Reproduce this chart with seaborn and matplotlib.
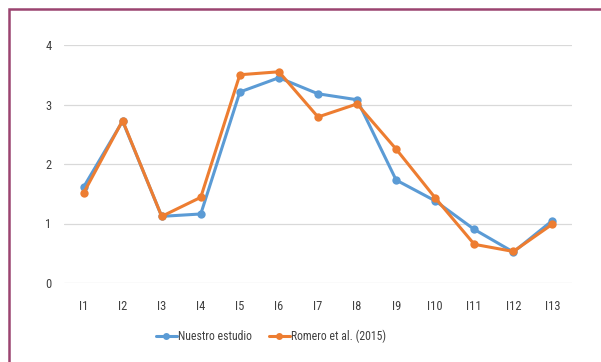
import matplotlib
matplotlib.use("Agg")
import matplotlib.pyplot as plt
import seaborn as sns
import pandas as pd
from matplotlib.patches import Rectangle

items = ["I1", "I2", "I3", "I4", "I5", "I6", "I7", "I8", "I9", "I10", "I11", "I12", "I13"]
nuestro = [1.61, 2.72, 1.12, 1.16, 3.21, 3.45, 3.18, 3.08, 1.73, 1.38, 0.90, 0.52, 1.05]
romero = [1.51, 2.73, 1.12, 1.44, 3.50, 3.55, 2.79, 3.01, 2.25, 1.43, 0.65, 0.53, 0.99]
series_names = ["Nuestro estudio", "Romero et al. (2015)"]
colors = ["#5b9bd5", "#ed7d31"]

df = pd.DataFrame({
    "item": items * 2,
    "x": list(range(len(items))) * 2,
    "valor": nuestro + romero,
    "serie": [series_names[0]] * len(items) + [series_names[1]] * len(items),
})

sns.set_theme(style="white")
plt.rcParams["font.family"] = ["Roboto Condensed", "Liberation Sans", "DejaVu Sans"]

W, H = 601, 362
fig = plt.figure(figsize=(W / 100, H / 100), dpi=100)
ax = fig.add_axes([64 / W, 1 - 283 / H, (572 - 64) / W, (283 - 45) / H])

sns.lineplot(data=df, x="x", y="valor", hue="serie", palette=colors,
             marker="o", markersize=6, markeredgewidth=0, linewidth=2.2,
             ax=ax, legend=False, clip_on=False, zorder=3)

ax.set_xlim(-0.5, len(items) - 0.5)
ax.set_ylim(0, 4)
ax.set_yticks([0, 1, 2, 3, 4])
ax.set_yticklabels(["0", "1", "2", "3", "4"])
ax.set_xticks(range(len(items)))
ax.set_xticklabels(items)
ax.set_xlabel("")
ax.set_ylabel("")
ax.grid(axis="y", color="#d9d9d9", linewidth=0.9)
ax.grid(axis="x", visible=False)
for s in ax.spines.values():
    s.set_visible(False)
ax.tick_params(axis="both", length=0, labelsize=9, colors="#404040")
ax.tick_params(axis="x", pad=12)
ax.tick_params(axis="y", pad=9)

handles = [plt.Line2D([], [], color=c, marker="o", markersize=5, markeredgewidth=0, linewidth=2.2)
           for c in colors]
fig.legend(handles, series_names, loc="center", bbox_to_anchor=(271 / W, 1 - 336 / H),
           ncol=2, frameon=False, fontsize=8.5, handlelength=1.8, handletextpad=0.1,
           columnspacing=1.4, labelcolor="#404040")

# outer frame
fig.patches.append(Rectangle((9 / W, -0.1), 1.2, 1 - 9 / H + 0.1, transform=fig.transFigure,
                             fill=False, edgecolor="#9b4470", linewidth=1.8))

fig.savefig("out.png", dpi=100)
